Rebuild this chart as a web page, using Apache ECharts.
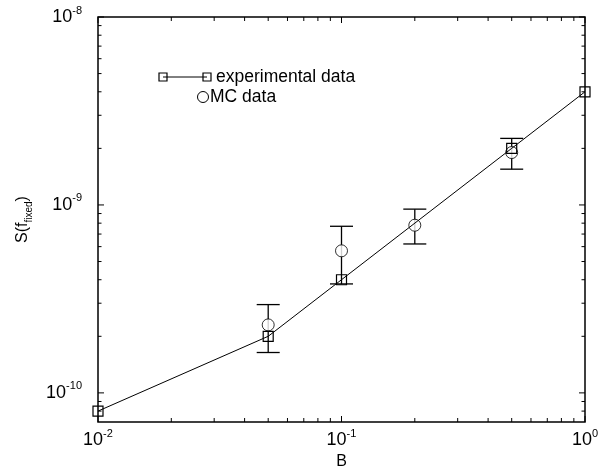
<!DOCTYPE html>
<html>
<head>
<meta charset="utf-8">
<script src="https://cdn.jsdelivr.net/npm/echarts@6/dist/echarts.min.js"></script>
<style>
  html, body { margin: 0; padding: 0; background: #fff; }
  #chart { width: 608px; height: 470px; }
</style>
</head>
<body>
<div id="chart"></div>
<script>
// experimental data (squares joined by a line)
const expB = [0.01, 0.05, 0.1, 0.5, 1]
const expS = [8e-11, 2e-10, 4e-10, 2e-9, 4e-9]

// MC data (circles with error bars)
const mcB = [0.05, 0.1, 0.2, 0.5]
const mcS = [2.3e-10, 5.7e-10, 7.8e-10, 1.9e-9]
const mcLow = [1.64e-10, 3.8e-10, 6.2e-10, 1.55e-9]
const mcHigh = [2.95e-10, 7.7e-10, 9.5e-10, 2.26e-9]

// axis ranges and tick values
const xMin = 0.01
const xMax = 1
const yMin = 7e-11
const yMax = 1e-8
const xMajor = [0.01, 0.1, 1]
const xMinor = [0.02, 0.03, 0.04, 0.05, 0.06, 0.07, 0.08, 0.09, 0.2, 0.3, 0.4, 0.5, 0.6, 0.7, 0.8, 0.9]
const yMajor = [1e-10, 1e-9, 1e-8]
const yMinor = [8e-11, 9e-11, 2e-10, 3e-10, 4e-10, 5e-10, 6e-10, 7e-10, 8e-10, 9e-10,
  2e-9, 3e-9, 4e-9, 5e-9, 6e-9, 7e-9, 8e-9, 9e-9]

const font = 'Liberation Sans, Arial, Helvetica, sans-serif'

// ticks on all four sides: [x, y, length, side]  side 0=bottom 1=top 2=left 3=right
var ticks = []
xMajor.forEach(function(v) { ticks.push([v, yMin, 6, 0], [v, yMax, 6, 1]) })
xMinor.forEach(function(v) { ticks.push([v, yMin, 4, 0], [v, yMax, 4, 1]) })
yMajor.forEach(function(v) { ticks.push([xMin, v, 6, 2], [xMax, v, 6, 3]) })
yMinor.forEach(function(v) { ticks.push([xMin, v, 3.5, 2], [xMax, v, 3.5, 3]) })

var errData = []
for (var i = 0; i < mcB.length; i++) errData.push([mcB[i], mcLow[i], mcHigh[i]])

function powLabel(v) {
  const lg = Math.log10(v)
  const e = Math.round(lg)
  if (Math.abs(lg - e) > 1e-6) return ''
  return '{b|10}{s|' + e + '}'
}

const labelRich = {
  b: { fontSize: 18, fontFamily: font, color: '#000', lineHeight: 24 },
  s: { fontSize: 11, fontFamily: font, color: '#000', lineHeight: 12, verticalAlign: 'top' }
}

const chart = echarts.init(document.getElementById('chart'))

chart.setOption({
  animation: false,
  backgroundColor: '#fff',
  grid: {
    left: 98, right: 23, top: 17, bottom: 48,
    outerBoundsMode: 'none',
    containLabel: false,
    show: true, borderColor: '#000', borderWidth: 1.5,
    backgroundColor: 'transparent'
  },
  xAxis: {
    type: 'log',
    logBase: 10,
    min: xMin,
    max: xMax,
    name: 'B',
    nameLocation: 'middle',
    nameGap: 30,
    nameTextStyle: { fontSize: 16, fontFamily: font, color: '#000' },
    axisLine: { show: false },
    axisTick: { show: false },
    splitLine: { show: false },
    axisLabel: { margin: 6, formatter: powLabel, rich: labelRich }
  },
  yAxis: {
    type: 'log',
    logBase: 10,
    min: yMin,
    max: yMax,
    name: '{a|S(f}{c|fixed}{a|)}',
    nameLocation: 'middle',
    nameGap: 64,
    nameRotate: 90,
    nameTextStyle: {
      rich: {
        a: { fontSize: 16, fontFamily: font, color: '#000', lineHeight: 22 },
        c: { fontSize: 10, fontFamily: font, color: '#000', lineHeight: 14, verticalAlign: 'bottom' }
      }
    },
    axisLine: { show: false },
    axisTick: { show: false },
    splitLine: { show: false },
    axisLabel: { margin: 16, formatter: powLabel, rich: labelRich }
  },
  series: [
    {
      name: 'ticks',
      type: 'custom',
      silent: true,
      data: ticks,
      renderItem: function(params, api) {
        const p = api.coord([api.value(0), api.value(1)])
        const len = api.value(2)
        const side = api.value(3)
        var dx = 0
        var dy = 0
        if (side === 0) dy = -len
        else if (side === 1) dy = len
        else if (side === 2) dx = len
        else dx = -len
        return {
          type: 'line',
          shape: { x1: p[0], y1: p[1], x2: p[0] + dx, y2: p[1] + dy },
          style: { stroke: '#000', lineWidth: 1 }
        }
      }
    },
    {
      name: 'error',
      type: 'custom',
      silent: true,
      data: errData,
      z: 3,
      renderItem: function(params, api) {
        const lo = api.coord([api.value(0), api.value(1)])
        const hi = api.coord([api.value(0), api.value(2)])
        const w = 11.5
        const st = { stroke: '#000', lineWidth: 1.3 }
        return {
          type: 'group',
          children: [
            { type: 'line', shape: { x1: lo[0], y1: lo[1], x2: hi[0], y2: hi[1] }, style: st },
            { type: 'line', shape: { x1: lo[0] - w, y1: lo[1], x2: lo[0] + w, y2: lo[1] }, style: st },
            { type: 'line', shape: { x1: hi[0] - w, y1: hi[1], x2: hi[0] + w, y2: hi[1] }, style: st }
          ]
        }
      }
    },
    {
      name: 'MC data',
      type: 'scatter',
      z: 4,
      data: mcB.map(function(b, i) { return [b, mcS[i]] }),
      symbol: 'circle',
      symbolSize: 12,
      itemStyle: { color: '#fff', borderColor: '#000', borderWidth: 1 }
    },
    {
      name: 'experimental data',
      type: 'line',
      z: 5,
      data: expB.map(function(b, i) { return [b, expS[i]] }),
      symbol: 'rect',
      symbolSize: 10,
      lineStyle: { color: '#000', width: 1 },
      itemStyle: { color: 'rgba(0,0,0,0)', borderColor: '#000', borderWidth: 1.2 }
    }
  ],
  graphic: [
    { type: 'line', shape: { x1: 163, y1: 77, x2: 207, y2: 77 }, style: { stroke: '#000', lineWidth: 1 } },
    { type: 'rect', shape: { x: 159, y: 73, width: 8, height: 8 }, style: { fill: 'none', stroke: '#000', lineWidth: 1.2 } },
    { type: 'rect', shape: { x: 203, y: 73, width: 8, height: 8 }, style: { fill: 'none', stroke: '#000', lineWidth: 1.2 } },
    { type: 'text', x: 216, y: 77, style: { text: 'experimental data', fontSize: 17.5, fontFamily: font, fill: '#000', verticalAlign: 'middle' } },
    { type: 'circle', shape: { cx: 203, cy: 97, r: 5.5 }, style: { fill: 'none', stroke: '#000', lineWidth: 1 } },
    { type: 'text', x: 210, y: 97, style: { text: 'MC data', fontSize: 17.5, fontFamily: font, fill: '#000', verticalAlign: 'middle' } }
  ]
})
</script>
</body>
</html>
